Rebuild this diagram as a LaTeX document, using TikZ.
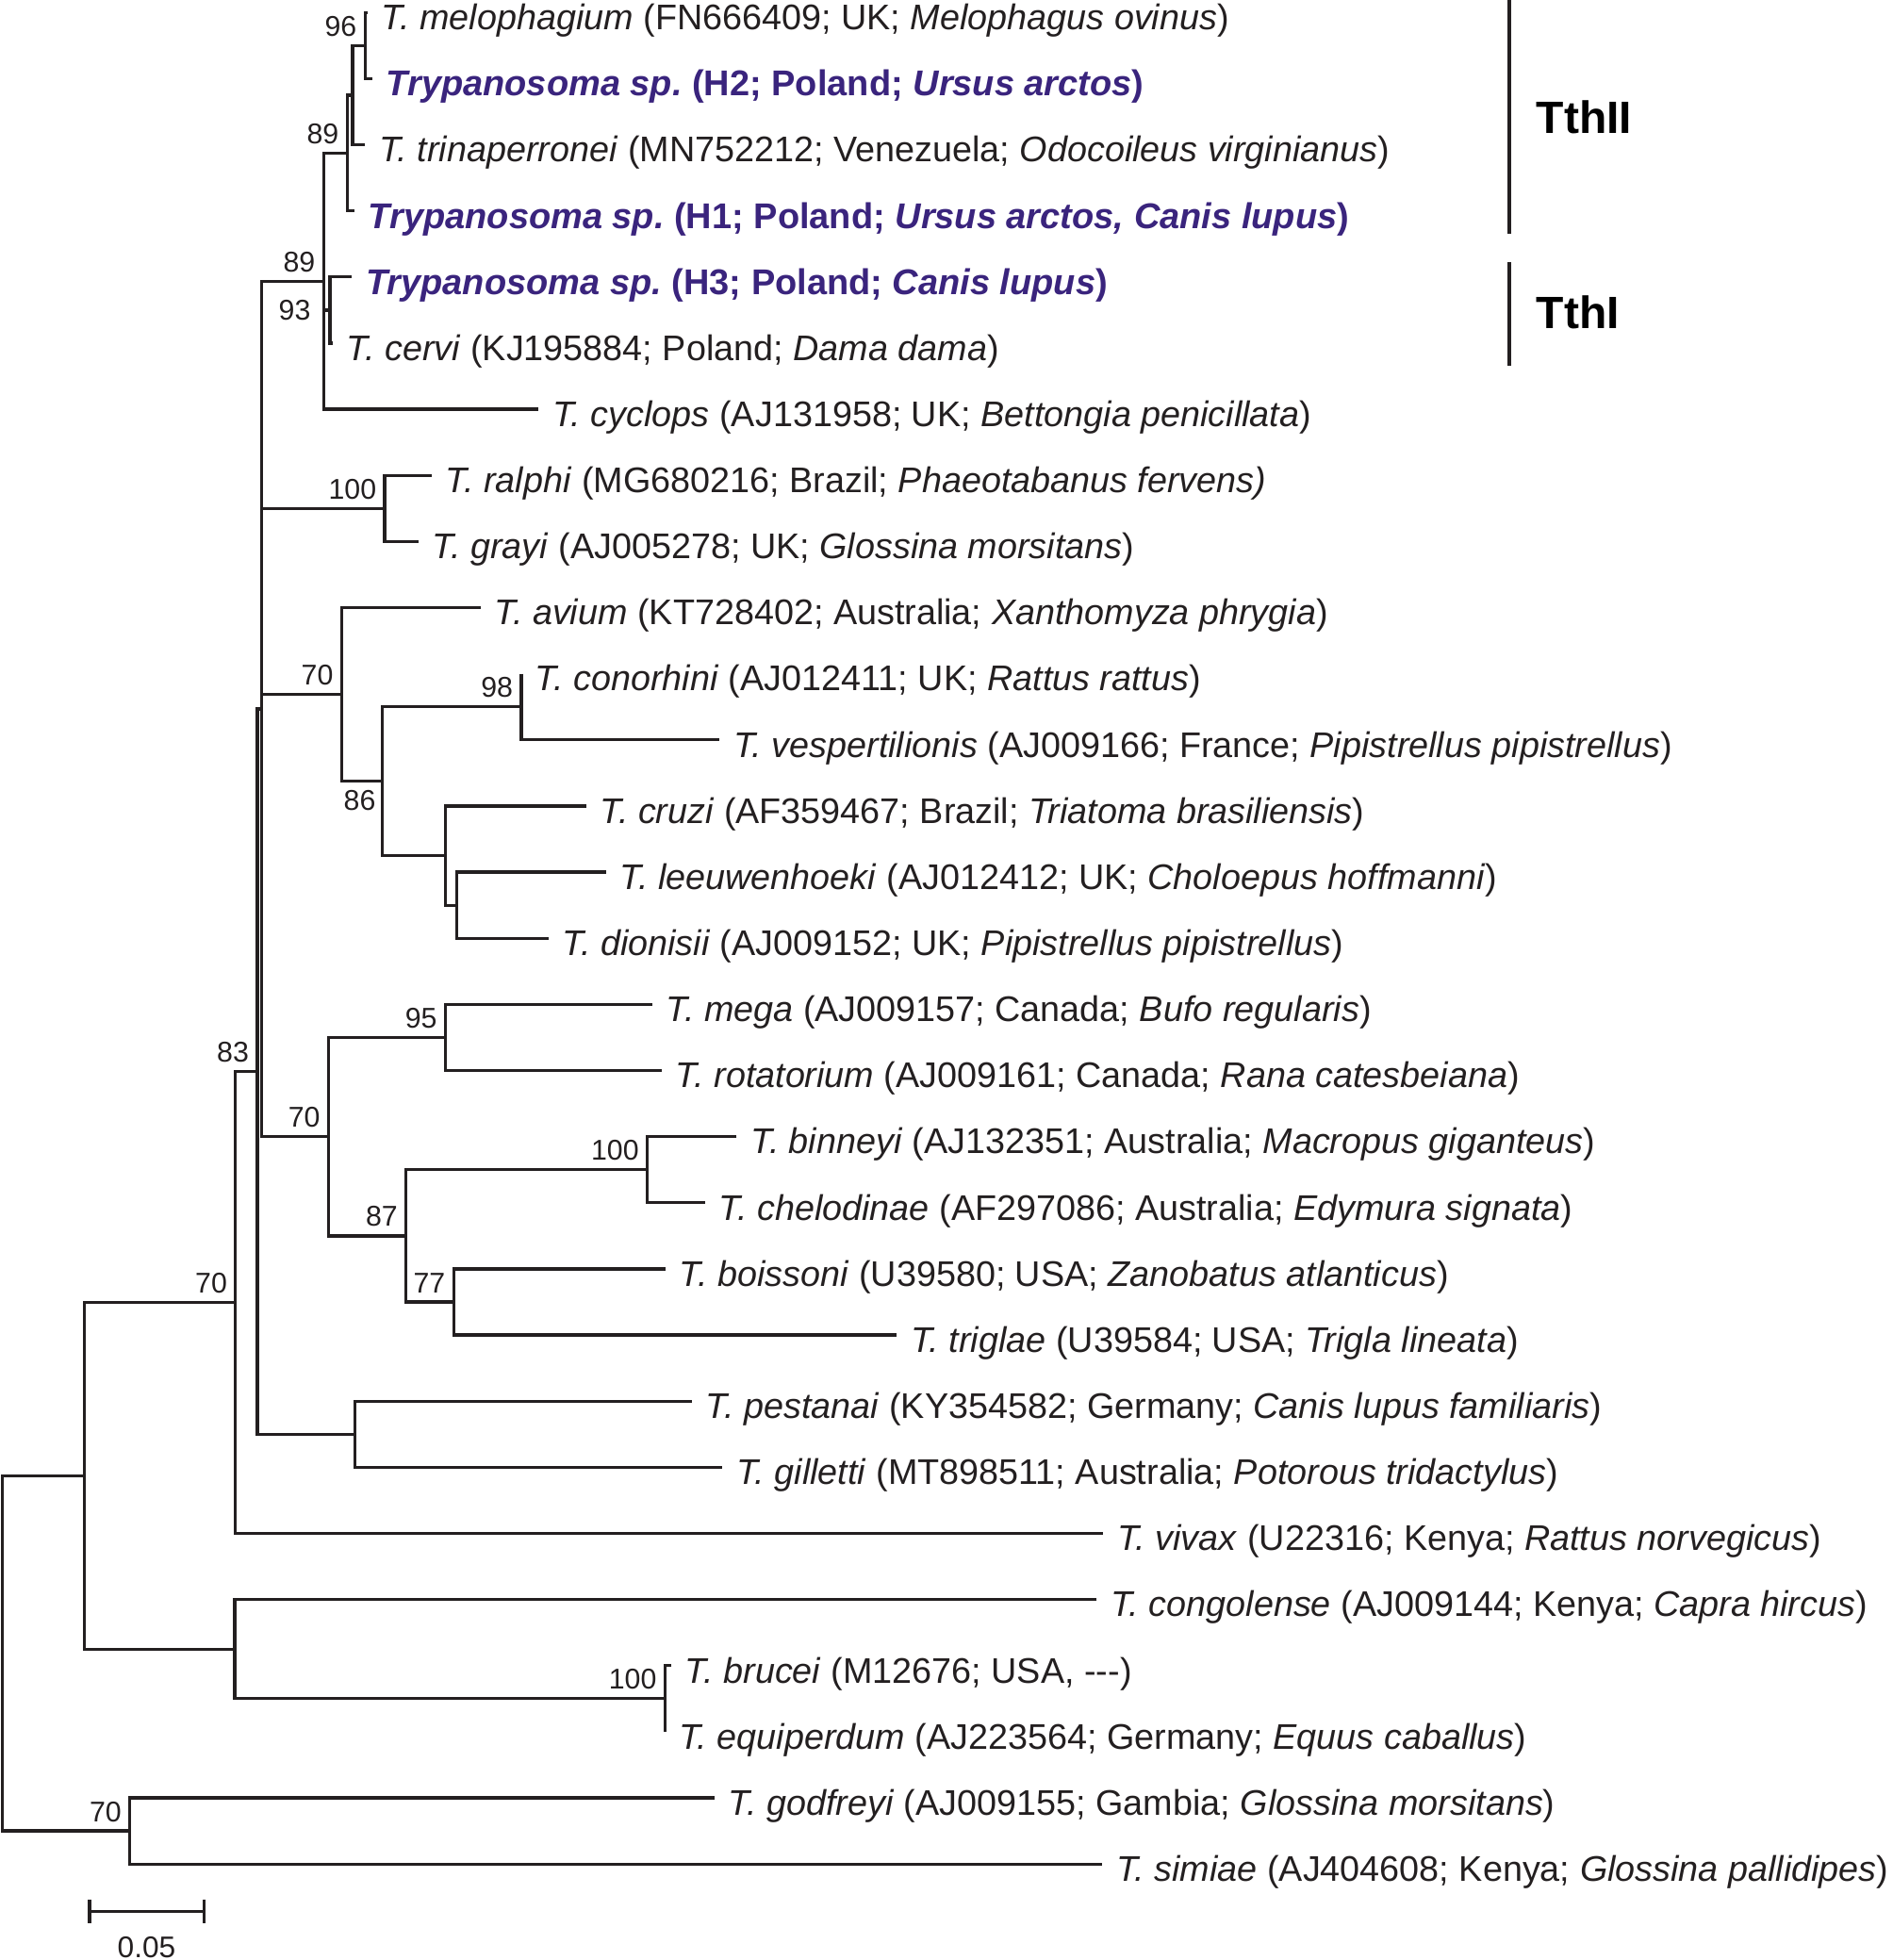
\documentclass[tikz,border=0pt]{standalone}
\usepackage{fontspec}
\setmainfont{Liberation Sans}
\usetikzlibrary{arrows.meta}
\definecolor{ink}{RGB}{35,31,32}
\definecolor{haplo}{RGB}{58,36,125}
\frenchspacing

\begin{document}
\begin{tikzpicture}[x = 0.01cm, y = -0.01cm, % one unit = one pixel, y downwards
                color = ink, % lines and text
                line width = 0.7pt, line join = miter % branch style
            ]

            \tikzstyle{taxon}=[anchor = base west, inner sep = 0pt, xshift = 1.0mm,
            yshift = -1.38mm, font = \fontsize{8.1}{9.7}\selectfont]
            \tikzstyle{hap}=[taxon, text = haplo, font = \fontsize{8.15}{9.7}\selectfont\bfseries]
            \tikzstyle{boot}=[anchor = base east, inner sep = 0pt, xshift = -0.55mm,
            yshift = 0.75mm, font = \fontsize{6.5}{7.8}\selectfont]
            \tikzstyle{bootfree}=[anchor = base east, inner sep = 0pt,
            font = \fontsize{6.5}{7.8}\selectfont]
            \tikzstyle{clade}=[anchor = base west, inner sep = 0pt, text = black,
            font = \fontsize{10.3}{12}\selectfont\bfseries]

            \useasboundingbox (0,0) rectangle (1514,1568);

            % tips
            \coordinate (t0) at (294,10); \coordinate (t1) at (297.8,62.9);
            \coordinate (t2) at (292,115.8); \coordinate (t3) at (283.5,168.7);
            \coordinate (t4) at (281.5,221.6); \coordinate (t5) at (266,274.5);
            \coordinate (t6) at (431,327.4); \coordinate (t7) at (345.3,380.3);
            \coordinate (t8) at (334.7,433.2); \coordinate (t9) at (384.3,486.1);
            \coordinate (t10) at (417,539); \coordinate (t11) at (575.6,591.9);
            \coordinate (t12) at (468.8,644.8); \coordinate (t13) at (484.7,697.7);
            \coordinate (t14) at (438.6,750.6); \coordinate (t15) at (521.6,803.5);
            \coordinate (t16) at (529.4,856.4); \coordinate (t17) at (589.4,909.3);
            \coordinate (t18) at (564,962.2); \coordinate (t19) at (532.3,1015.1);
            \coordinate (t20) at (717.5,1068); \coordinate (t21) at (553.4,1120.9);
            \coordinate (t22) at (577.9,1173.8); \coordinate (t23) at (882.5,1226.7);
            \coordinate (t24) at (877.4,1279.6); \coordinate (t25) at (537,1332.5);
            \coordinate (t26) at (532,1385.4); \coordinate (t27) at (571.5,1438.3);
            \coordinate (t28) at (881.8,1491.2);

            % inner nodes
            \coordinate (nA) at (292,36.45); \coordinate (nB) at (282,76.1);
            \coordinate (nC) at (277.7,122.4); \coordinate (nE) at (263.9,248.05);
            \coordinate (nG) at (258.9,224.9); \coordinate (nP) at (307.8,406.75);
            \coordinate (nT) at (417,565.45); \coordinate (nV) at (365.5,724.15);
            \coordinate (nU) at (356.3,684.5); \coordinate (nS) at (305.8,625);
            \coordinate (nQ) at (273.3,555.55); \coordinate (nX) at (356.3,829.95);
            \coordinate (nZ) at (517.8,935.75); \coordinate (nAA) at (362.9,1041.55);
            \coordinate (nY) at (324.8,988.65); \coordinate (nW) at (262.8,909.3);
            \coordinate (nJ) at (209.5,567.1); \coordinate (nAB) at (284.1,1147.35);
            \coordinate (nI) at (205.8,857.2); \coordinate (nK) at (188.4,1041.95);
            \coordinate (nN) at (532,1358.95); \coordinate (nM) at (187.7,1319.3);
            \coordinate (nL) at (67.7,1180.6); \coordinate (nO) at (103.9,1464.75);
            \coordinate (nR) at (1.9,1322.7);

            % branches
            \draw (t0) -| (nA) |- (t1); \draw (nA) -| (nB) |- (t2);
            \draw (nB) -| (nC) |- (t3); \draw (t4) -| (nE) |- (t5);
            \draw (nC) -| (nG) |- (t6); \draw (nG |- nE) -- (nE);
            \draw (t7) -| (nP) |- (t8); \draw (t10) -| (nT) |- (t11);
            \draw (t13) -| (nV) |- (t14); \draw (t12) -| (nU) |- (nV);
            \draw (nT) -| (nS) |- (nU); \draw (t9) -| (nQ) |- (nS);
            \draw (t15) -| (nX) |- (t16); \draw (t17) -| (nZ) |- (t18);
            \draw (t19) -| (nAA) |- (t20); \draw (nZ) -| (nY) |- (nAA);
            \draw (nX) -| (nW) |- (nY);
            \draw (nG) -| (nJ) |- (nW); \draw (nJ |- nP) -- (nP);
            \draw (nJ |- nQ) -- (nQ);
            \draw (t21) -| (nAB) |- (t22); \draw (nJ) -| (nI) |- (nAB);
            \draw (nI) -| (nK) |- (t23); \draw (t25) -| (nN) |- (t26);
            \draw (t24) -| (nM) |- (nN); \draw (nK) -| (nL) |- (nM);
            \draw (t27) -| (nO) |- (t28); \draw (nL) -| (nR) |- (nO);

            % taxa
            \node[taxon] (l0) at (t0) {\textit{T. melophagium} (FN666409; UK; \textit{Melophagus ovinus})};
            \node[hap] (l1) at (t1) {\textit{Trypanosoma sp.}\ (H2; Poland; \textit{Ursus arctos})};
            \node[taxon] (l2) at (t2) {\textit{T. trinaperronei} (MN752212; Venezuela; \textit{Odocoileus virginianus})};
            \node[hap] (l3) at (t3) {\textit{Trypanosoma sp.}\ (H1; Poland; \textit{Ursus arctos, Canis lupus})};
            \node[hap] (l4) at (t4) {\textit{Trypanosoma sp.}\ (H3; Poland; \textit{Canis lupus})};
            \node[taxon] (l5) at (t5) {\textit{T. cervi} (KJ195884; Poland; \textit{Dama dama})};
            \node[taxon] (l6) at (t6) {\textit{T. cyclops} (AJ131958; UK; \textit{Bettongia penicillata})};
            \node[taxon] (l7) at (t7) {\textit{T. ralphi} (MG680216; Brazil; \textit{Phaeotabanus fervens)}};
            \node[taxon] (l8) at (t8) {\textit{T. grayi} (AJ005278; UK; \textit{Glossina morsitans})};
            \node[taxon] (l9) at (t9) {\textit{T. avium} (KT728402; Australia; \textit{Xanthomyza phrygia})};
            \node[taxon] (l10) at (t10) {\textit{T. conorhini} (AJ012411; UK; \textit{Rattus rattus})};
            \node[taxon] (l11) at (t11) {\textit{T. vespertilionis} (AJ009166; France; \textit{Pipistrellus pipistrellus})};
            \node[taxon] (l12) at (t12) {\textit{T. cruzi} (AF359467; Brazil; \textit{Triatoma brasiliensis})};
            \node[taxon] (l13) at (t13) {\textit{T. leeuwenhoeki} (AJ012412; UK; \textit{Choloepus hoffmanni})};
            \node[taxon] (l14) at (t14) {\textit{T. dionisii} (AJ009152; UK; \textit{Pipistrellus pipistrellus})};
            \node[taxon] (l15) at (t15) {\textit{T. mega} (AJ009157; Canada; \textit{Bufo regularis})};
            \node[taxon] (l16) at (t16) {\textit{T. rotatorium} (AJ009161; Canada; \textit{Rana catesbeiana})};
            \node[taxon] (l17) at (t17) {\textit{T. binneyi} (AJ132351; Australia; \textit{Macropus giganteus})};
            \node[taxon] (l18) at (t18) {\textit{T. chelodinae} (AF297086; Australia; \textit{Edymura signata})};
            \node[taxon] (l19) at (t19) {\textit{T. boissoni} (U39580; USA; \textit{Zanobatus atlanticus})};
            \node[taxon] (l20) at (t20) {\textit{T. triglae} (U39584; USA; \textit{Trigla lineata})};
            \node[taxon] (l21) at (t21) {\textit{T. pestanai} (KY354582; Germany; \textit{Canis lupus familiaris})};
            \node[taxon] (l22) at (t22) {\textit{T. gilletti} (MT898511; Australia; \textit{Potorous tridactylus})};
            \node[taxon] (l23) at (t23) {\textit{T. vivax} (U22316; Kenya; \textit{Rattus norvegicus})};
            \node[taxon] (l24) at (t24) {\textit{T. congolense} (AJ009144; Kenya; \textit{Capra hircus})};
            \node[taxon] (l25) at (t25) {\textit{T. brucei} (M12676; USA, -{}-{}-)};
            \node[taxon] (l26) at (t26) {\textit{T. equiperdum} (AJ223564; Germany; \textit{Equus caballus})};
            \node[taxon] (l27) at (t27) {\textit{T. godfreyi} (AJ009155; Gambia; \textit{Glossina morsitans})};
            \node[taxon] (l28) at (t28) {\textit{T. simiae} (AJ404608; Kenya; \textit{Glossina pallidipes})};

            % bootstrap values
            \node[boot] (bA) at (nA) {96}; \node[boot] (bC) at (nC) {89};
            \node[boot] (bG) at (nG) {89};
            \node[bootfree, xshift = -1.42mm, yshift = -0.82mm] (bE) at (nE) {93};
            \node[boot] (bP) at (nP) {100}; \node[boot] (bQ) at (nQ) {70};
            \node[boot] (bT) at (nT) {98};
            \node[bootfree, xshift = -0.41mm, yshift = -2.32mm] (bS) at (nS) {86};
            \node[boot] (bX) at (nX) {95}; \node[boot] (bW) at (nW) {70};
            \node[boot] (bZ) at (nZ) {100}; \node[boot] (bY) at (nY) {87};
            \node[boot] (bAA) at (nAA) {77}; \node[boot] (bI) at (nI) {83};
            \node[boot] (bK) at (nK) {70}; \node[boot] (bN) at (nN) {100};
            \node[boot] (bO) at (nO) {70};

            % clade bars
            \coordinate (c2a) at (1207.6,0); \coordinate (c2b) at (1207.6,187.2);
            \coordinate (c1a) at (1207.6,209.9); \coordinate (c1b) at (1207.6,292.8);
            \draw[line width = 0.8pt] (c2a) -- (c2b); \draw[line width = 0.8pt] (c1a) -- (c1b);
            \node[clade] (TthII) at (1228,106.8) {TthII};
            \node[clade] (TthI) at (1228,262.6) {TthI};

            % scale bar
            \coordinate (s0) at (70.4,1529); \coordinate (s1) at (164.7,1529);
            \draw[{Bar[width = 5.4pt]}-{Bar[width = 5.4pt]}] (s0) -- (s1);
            \node[anchor = base, inner sep = 0pt, font = \fontsize{6.8}{8}\selectfont]
            (sl) at (117.3,1566) {0.05};
        \end{tikzpicture}
\end{document}
